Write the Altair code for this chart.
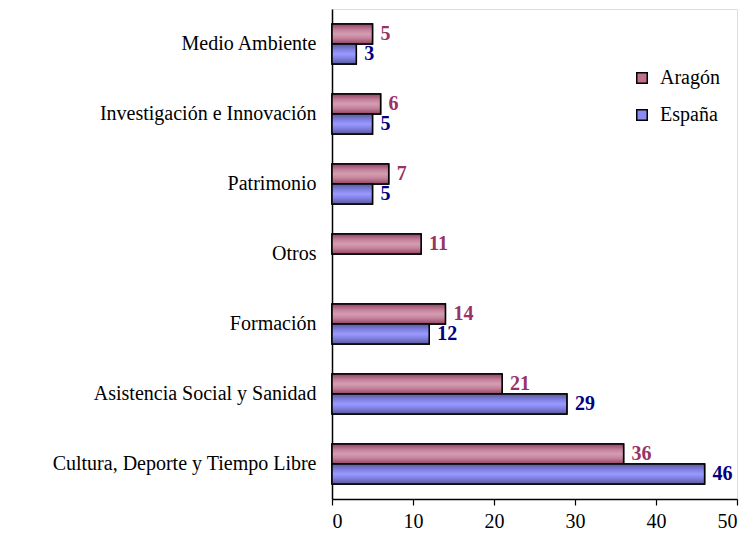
import altair as alt
import pandas as pd

categories = ["Medio Ambiente", "Investigación e Innovación", "Patrimonio", "Otros",
              "Formación", "Asistencia Social y Sanidad", "Cultura, Deporte y Tiempo Libre"]
aragon = [5, 6, 7, 11, 14, 21, 36]
espana = [3, 5, 5, None, 12, 29, 46]
series = ["Aragón", "España"]

rows = []
for c, a, e in zip(categories, aragon, espana):
    rows.append({"cat": c, "serie": "Aragón", "value": a})
    if e is not None:
        rows.append({"cat": c, "serie": "España", "value": e})
df = pd.DataFrame(rows)

FONT = "Liberation Serif"

y_enc = alt.Y("cat:N", sort=categories, title=None,
              scale=alt.Scale(paddingInner=0.43, paddingOuter=0.215),
              axis=alt.Axis(ticks=False, domain=True, domainColor="black", domainWidth=1.5,
                            labelFont=FONT, labelFontSize=20, labelColor="black",
                            labelPadding=16, labelLimit=400))
yoff = alt.YOffset("serie:N", scale=alt.Scale(domain=series))
x_enc = alt.X("value:Q", title=None,
              scale=alt.Scale(domain=[0, 50], nice=False),
              axis=alt.Axis(values=[0, 10, 20, 30, 40, 50], grid=False, domainColor="black",
                            domainWidth=1.5, tickColor="black", tickSize=6, tickWidth=1.2,
                            labelFont=FONT, labelFontSize=20, labelColor="black",
                            labelPadding=6))

base = alt.Chart(df).encode(y=y_enc, yOffset=yoff, x=x_enc)

legend_layer = base.mark_bar(stroke="black", strokeWidth=1.5).encode(
    color=alt.Color("serie:N", scale=alt.Scale(domain=series, range=["#c2708f", "#8a8af0"]),
                    legend=alt.Legend(title=None, orient="none", legendX=300, legendY=59,
                                      symbolType="square", symbolSize=110,
                                      symbolStrokeColor="black", symbolStrokeWidth=1.5,
                                      labelFont=FONT, labelFontSize=20, labelColor="black",
                                      rowPadding=17, labelOffset=8))
)

grad_a = alt.LinearGradient(gradient="linear", x1=0, y1=0, x2=0, y2=1, stops=[
    alt.GradientStop(offset=0, color="#944366"),
    alt.GradientStop(offset=0.3, color="#c5849c"),
    alt.GradientStop(offset=0.5, color="#d59cb1"),
    alt.GradientStop(offset=0.7, color="#c5849c"),
    alt.GradientStop(offset=1, color="#944366")])
grad_e = alt.LinearGradient(gradient="linear", x1=0, y1=0, x2=0, y2=1, stops=[
    alt.GradientStop(offset=0, color="#5a5a9c"),
    alt.GradientStop(offset=0.3, color="#8282e6"),
    alt.GradientStop(offset=0.5, color="#9a9aff"),
    alt.GradientStop(offset=0.7, color="#8282e6"),
    alt.GradientStop(offset=1, color="#5a5a9c")])

bar_a = base.mark_bar(color=grad_a, stroke="black", strokeWidth=1.5).transform_filter(
    alt.datum.serie == "Aragón")
bar_e = base.mark_bar(color=grad_e, stroke="black", strokeWidth=1.5).transform_filter(
    alt.datum.serie == "España")

txt_a = base.mark_text(align="left", baseline="middle", dx=8, font=FONT, fontSize=20,
                       fontWeight="bold", color="#993366").encode(text="value:Q").transform_filter(
    alt.datum.serie == "Aragón")
txt_e = base.mark_text(align="left", baseline="middle", dx=8, font=FONT, fontSize=20,
                       fontWeight="bold", color="#000080").encode(text="value:Q").transform_filter(
    alt.datum.serie == "España")

chart = alt.layer(legend_layer, bar_a, bar_e, txt_a, txt_e).properties(
    width=405, height=490,
    autosize=alt.AutoSizeParams(type="none"),
    padding={"left": 324, "top": 1, "right": 4, "bottom": 34},
).configure_view(stroke=None).configure(background="white")

chart.save("out.html", embed_options={"renderer": "svg", "actions": False})
